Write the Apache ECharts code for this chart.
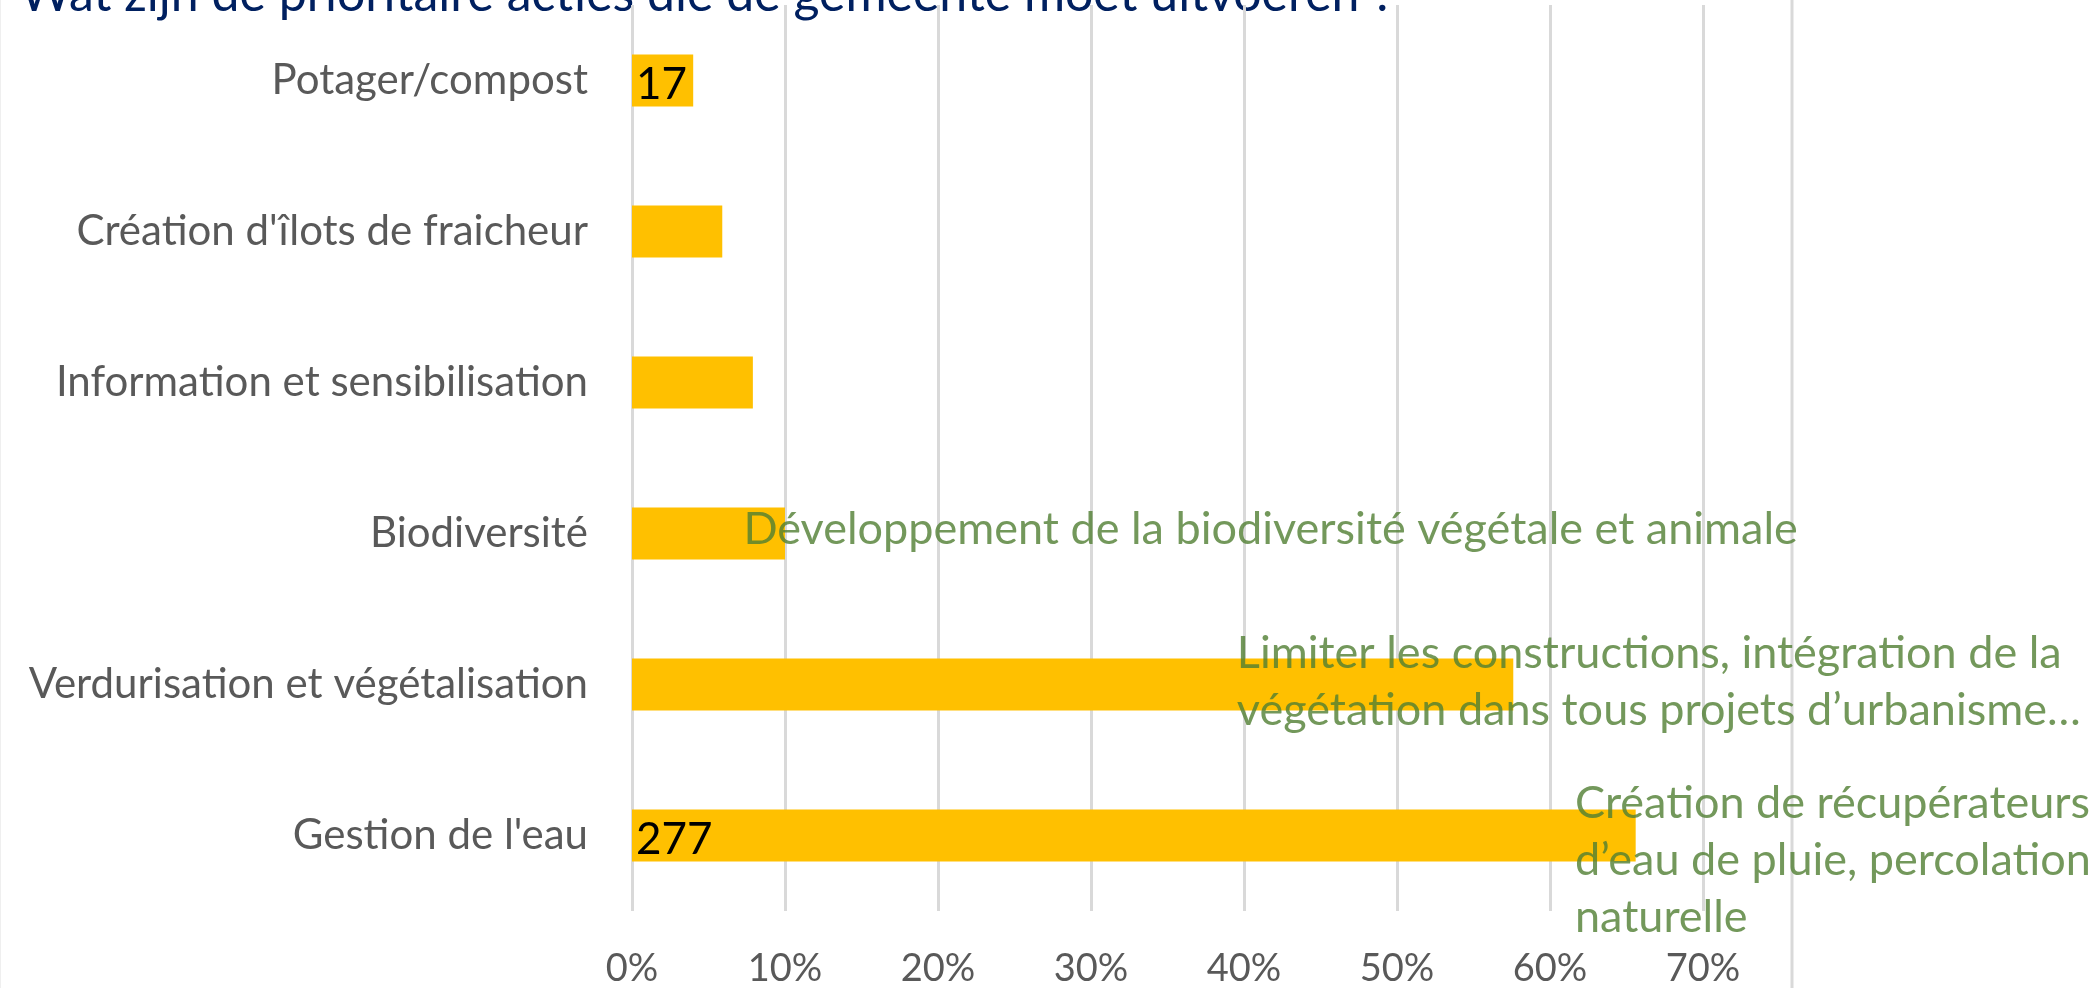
<!DOCTYPE html>
<html>
<head>
<meta charset="utf-8">
<script src="https://cdn.jsdelivr.net/npm/echarts@6/dist/echarts.min.js"></script>
<style>
html,body{margin:0;padding:0;background:#fff;}
#chart{width:2097px;height:988px;}
</style>
</head>
<body>
<div id="chart"></div>
<script>
const titleText = 'Wat zijn de prioritaire acties die de gemeente moet uitvoeren ?';
const categories = ['Potager/compost', "Création d'îlots de fraicheur", 'Information et sensibilisation', 'Biodiversité', 'Verdurisation et végétalisation', "Gestion de l'eau"];
const percentages = [4.0, 5.9, 7.9, 10.0, 57.6, 65.6];
const counts = [17, null, null, null, null, 277];
const xTickValues = [0, 10, 20, 30, 40, 50, 60, 70];
const annotationCategories = ['Biodiversité', 'Verdurisation et végétalisation', "Gestion de l'eau"];
const annotationStart = [7.25, 39.5, 61.6];
const annotationTexts = [
  'Développement de la biodiversité végétale et animale',
  'Limiter les constructions, intégration de la\nvégétation dans tous projets d’urbanisme…',
  'Création de récupérateurs\nd’eau de pluie, percolation\nnaturelle'
];

const FONT = 'Lato';
const annotationOffsets = [[0, -4], [0, -3], [0, 25]];

const chart = echarts.init(document.getElementById('chart'));
chart.setOption({
  animation: false,
  backgroundColor: '#ffffff',
  grid: { left: 632, right: 2097 - 1703, top: 5, bottom: 76, containLabel: false },
  xAxis: {
    type: 'value',
    min: xTickValues[0],
    max: xTickValues[xTickValues.length - 1],
    interval: xTickValues[1] - xTickValues[0],
    axisLine: { show: false },
    axisTick: { show: false },
    splitLine: { show: true, lineStyle: { color: '#d9d9d9', width: 3 } },
    axisLabel: { formatter: '{value}%', color: '#595959', fontSize: 38, fontFamily: FONT, margin: 39 }
  },
  yAxis: {
    type: 'category',
    inverse: true,
    data: categories,
    axisLine: { show: false },
    axisTick: { show: false },
    splitLine: { show: false },
    axisLabel: { color: '#595959', fontSize: 42, fontFamily: FONT, margin: 44 }
  },
  graphic: [
    { type: 'text', left: 20, top: -30, style: { text: titleText, fill: '#002060', font: '50px ' + FONT } },
    { type: 'line', shape: { x1: 1792, y1: 0, x2: 1792, y2: 988 }, style: { stroke: '#d9d9d9', lineWidth: 3 } },
    { type: 'line', shape: { x1: 0.5, y1: 0, x2: 0.5, y2: 988 }, style: { stroke: '#efefef', lineWidth: 1 } }
  ],
  series: [
    {
      type: 'bar',
      barWidth: 52,
      itemStyle: { color: '#FFC000' },
      data: percentages.map((v, i) => ({
        value: v,
        label: counts[i] != null ? {
          show: true, position: 'insideLeft', distance: 4, offset: [0, 4],
          formatter: String(counts[i]), color: '#000000', fontSize: 44, fontFamily: FONT
        } : { show: false }
      }))
    },
    {
      type: 'scatter',
      symbolSize: 1,
      itemStyle: { color: 'rgba(0,0,0,0)' },
      z: 5,
      label: { show: true },
      data: annotationCategories.map((c, i) => ({
        value: [annotationStart[i], c],
        label: {
          show: true, position: 'right', distance: 0, offset: annotationOffsets[i],
          formatter: annotationTexts[i], color: '#507e32', fontSize: 45, fontFamily: FONT,
          lineHeight: 57, align: 'left', verticalAlign: 'middle'
        }
      }))
    }
  ]
});
</script>
</body>
</html>
